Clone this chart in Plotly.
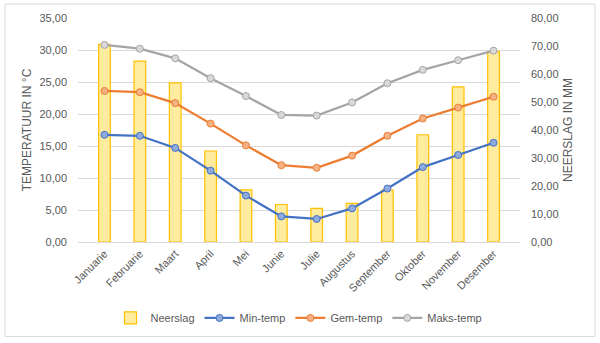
import plotly.graph_objects as go

months = ["Januarie", "Februarie", "Maart", "April", "Mei", "Junie", "Julie",
          "Augustus", "September", "Oktober", "November", "Desember"]
neerslag = [70.6, 64.6, 56.8, 32.5, 18.6, 13.4, 12.0, 13.8, 18.5, 38.3, 55.4, 68.0]
min_temp = [16.75, 16.6, 14.7, 11.15, 7.25, 4.0, 3.6, 5.25, 8.35, 11.7, 13.6, 15.5]
gem_temp = [23.6, 23.4, 21.7, 18.5, 15.1, 12.0, 11.6, 13.5, 16.6, 19.3, 21.0, 22.7]
maks_temp = [30.8, 30.2, 28.7, 25.6, 22.8, 19.85, 19.75, 21.8, 24.8, 26.9, 28.4, 29.9]

temp_ticks = [0, 5, 10, 15, 20, 25, 30, 35]
rain_ticks = [0, 10, 20, 30, 40, 50, 60, 70, 80]

FONT = "Liberation Sans, Arial, sans-serif"
GREY = "#595959"
FS = 11

fig = go.Figure()
fig.add_trace(go.Bar(
    x=months, y=neerslag, name="Neerslag", yaxis="y",
    marker=dict(color="#FFEC9E", line=dict(color="#FFC000", width=1.2)),
))

def line(vals, name, lc, mc):
    fig.add_trace(go.Scatter(
        x=months, y=vals, name=name, yaxis="y2", mode="lines+markers",
        line=dict(color=lc, width=2.25),
        marker=dict(symbol="circle", size=7, color=mc, line=dict(color=lc, width=1)),
    ))

line(min_temp, "Min-temp", "#4472C4", "#8FAADC")
line(gem_temp, "Gem-temp", "#ED7D31", "#F4B183")
line(maks_temp, "Maks-temp", "#A5A5A5", "#D9D9D9")

fig.update_layout(
    width=600, height=343,
    margin=dict(l=78, r=80, t=18, b=100),
    paper_bgcolor="white", plot_bgcolor="white",
    font=dict(family=FONT, size=FS, color=GREY),
    bargap=0.67,
    showlegend=True,
    legend=dict(orientation="h", x=0.5, xanchor="center", y=-0.333, yanchor="middle",
                font=dict(size=FS, color=GREY), itemwidth=30, traceorder="normal"),
    xaxis=dict(tickangle=-45, showgrid=False, showline=True, linecolor="#D9D9D9",
               ticks="", tickfont=dict(size=FS, color=GREY)),
    yaxis=dict(side="right", range=[0, 80], tickvals=rain_ticks,
               ticktext=[f"{v:.2f}".replace(".", ",") for v in rain_ticks],
               showgrid=False, zeroline=False, ticks="", ticklabelstandoff=10,
               title=dict(text="NEERSLAG IN MM", standoff=6, font=dict(size=FS + 1, color=GREY))),
    yaxis2=dict(side="left", overlaying="y", range=[0, 35], tickvals=temp_ticks,
                ticktext=[f"{v:.2f}".replace(".", ",") for v in temp_ticks],
                showgrid=True, gridcolor="#D9D9D9", gridwidth=1, zeroline=False,
                ticks="", ticklabelstandoff=10,
                title=dict(text="TEMPERATUUR IN °C", standoff=5, font=dict(size=FS + 1, color=GREY))),
    shapes=[dict(type="rect", xref="paper", yref="paper",
                 x0=(5 - 78) / 442, x1=(595 - 78) / 442,
                 y0=(243 - 338) / 225, y1=(243 - 4) / 225,
                 line=dict(color="#D9D9D9", width=1), fillcolor="rgba(0,0,0,0)", layer="below")],
)

fig.write_html("out.html")
